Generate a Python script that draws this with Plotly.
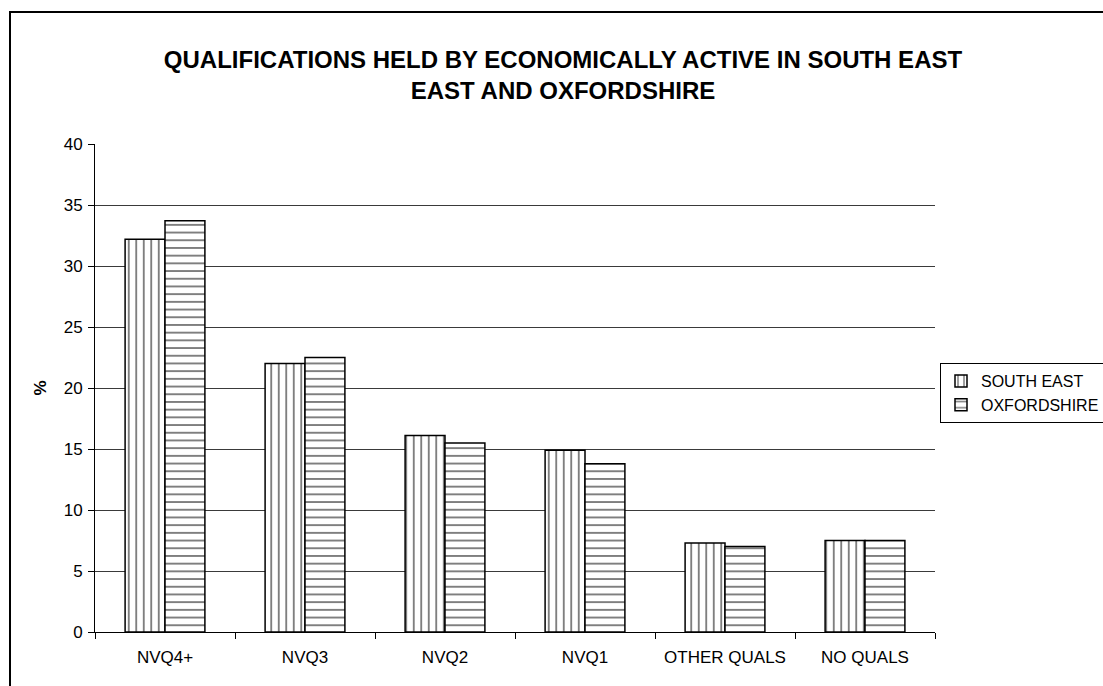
import plotly.graph_objects as go

categories = ["NVQ4+", "NVQ3", "NVQ2", "NVQ1", "OTHER QUALS", "NO QUALS"]
south_east = [32.2, 22.0, 16.1, 14.9, 7.3, 7.5]
oxfordshire = [33.7, 22.5, 15.5, 13.8, 7.0, 7.5]
y_ticks = [0, 5, 10, 15, 20, 25, 30, 35, 40]

W, H = 1103, 686
L, R, T, B = 95, 935, 144, 632
pw, ph = R - L, B - T

fig = go.Figure()
fig.add_trace(go.Bar(
    x=categories, y=south_east, name="SOUTH EAST",
    marker=dict(color="white", line=dict(color="black", width=1.5),
                pattern=dict(shape="|", fgcolor="black", bgcolor="white", size=7.5, solidity=0.25)),
))
fig.add_trace(go.Bar(
    x=categories, y=oxfordshire, name="OXFORDSHIRE",
    marker=dict(color="white", line=dict(color="black", width=1.5),
                pattern=dict(shape="-", fgcolor="black", bgcolor="white", size=7.7, solidity=0.25)),
))

def px_x(x):
    return (x - L) / pw

def px_y(y):
    return (B - y) / ph

fig.update_layout(
    width=W, height=H,
    margin=dict(l=L, r=W - R, t=T, b=H - B, autoexpand=False),
    paper_bgcolor="white", plot_bgcolor="white",
    font=dict(family="Arial, Liberation Sans, sans-serif", size=17, color="black"),
    barmode="group", bargap=0.43, bargroupgap=0,
    title=dict(
        text="<b>QUALIFICATIONS HELD BY ECONOMICALLY ACTIVE IN SOUTH EAST<br>EAST AND OXFORDSHIRE</b>",
        font=dict(size=24, family="Arial, Liberation Sans, sans-serif"),
        x=px_x(563), xref="paper", xanchor="center",
        y=1 - 68 / H, yref="container", yanchor="middle",
    ),
    xaxis=dict(
        showline=True, linecolor="black", linewidth=1,
        ticks="outside", ticklen=6, tickcolor="black", tickson="boundaries",
        showgrid=False, tickfont=dict(size=17), ticklabelstandoff=10,
    ),
    yaxis=dict(
        range=[0, 40], tickvals=y_ticks, showline=True, linecolor="black", linewidth=1,
        ticks="outside", ticklen=6, tickcolor="black",
        showgrid=True, gridcolor="#3a3a3a", gridwidth=1, zeroline=False,
        tickfont=dict(size=17), ticklabelstandoff=2,
        title=dict(text="<b>%</b>", font=dict(size=17), standoff=12),
    ),
    legend=dict(
        x=px_x(940), xanchor="left", y=px_y(363), yanchor="top",
        bordercolor="black", borderwidth=1, bgcolor="white",
        font=dict(size=16), tracegroupgap=0, itemwidth=30,
    ),
    showlegend=True,
    shapes=[dict(
        type="rect", xref="paper", yref="paper",
        x0=px_x(10), x1=px_x(1110), y0=px_y(12), y1=px_y(700),
        line=dict(color="black", width=2), fillcolor="rgba(0,0,0,0)", layer="below",
    )],
)

fig.write_html("out.html")
